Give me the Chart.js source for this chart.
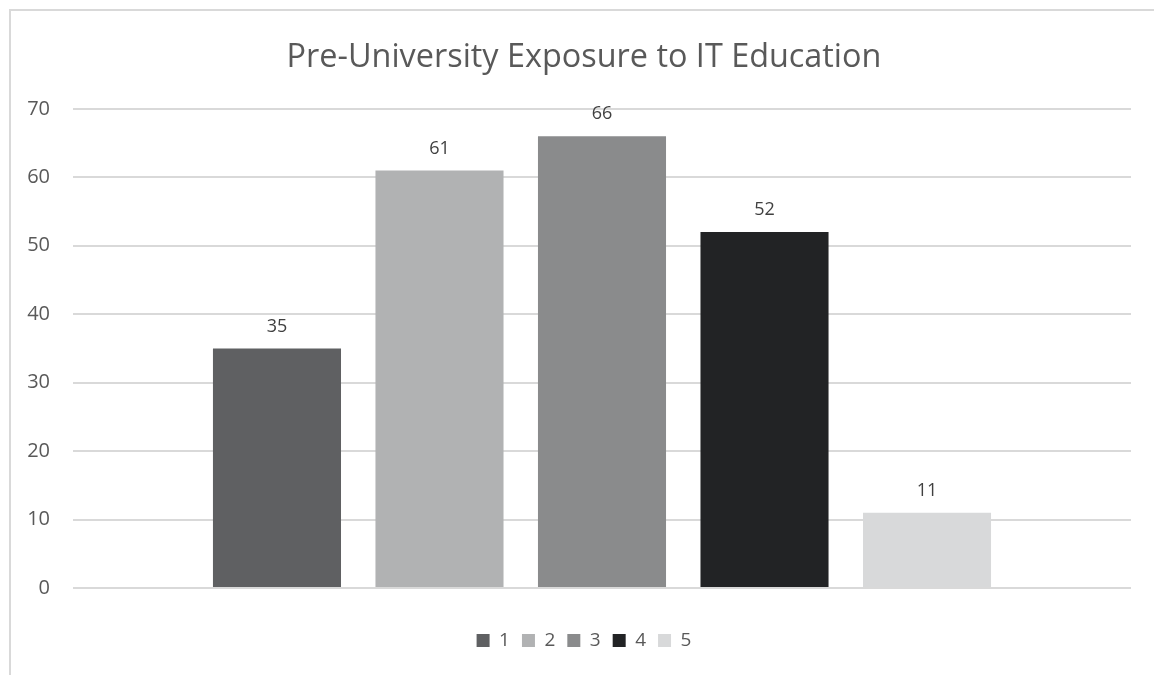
<!DOCTYPE html>
<html>
<head>
<meta charset="utf-8">
<script src="https://cdn.jsdelivr.net/npm/chart.js@4"></script>
<style>
html,body{margin:0;padding:0;background:#fff;}
#wrap{position:absolute;left:0;top:0;width:1154px;height:675px;}
</style>
</head>
<body>
<div id="wrap"><canvas id="c" width="1154" height="675"></canvas></div>
<script>
const categories = [""];
const seriesNames = ["1", "2", "3", "4", "5"];
const seriesValues = [35, 61, 66, 52, 11];
const seriesColors = ["#5f6062", "#b1b2b3", "#8a8b8c", "#222325", "#d8d9da"];
const yTicks = [0, 10, 20, 30, 40, 50, 60, 70];
const titleText = "Pre-University Exposure to IT Education";

const FONT = "'Open Sans', 'Liberation Sans', sans-serif";

const frame = {
  id: 'frame',
  afterLayout(chart) {
    // widen the label clip region of the y axis so its tick labels are not cut
    chart.scales.y.left = 0;
  },
  beforeDraw(chart) {
    const ctx = chart.ctx;
    ctx.save();
    ctx.fillStyle = '#fff';
    ctx.fillRect(0, 0, chart.width, chart.height);
    ctx.strokeStyle = '#d9d9d9';
    ctx.lineWidth = 2;
    ctx.beginPath();
    ctx.moveTo(10, chart.height);
    ctx.lineTo(10, 10);
    ctx.lineTo(chart.width, 10);
    ctx.stroke();
    ctx.restore();
  }
};

const valueLabels = {
  id: 'valueLabels',
  afterDatasetsDraw(chart) {
    const ctx = chart.ctx;
    ctx.save();
    ctx.font = "18px " + FONT;
    ctx.fillStyle = '#404040';
    ctx.textAlign = 'center';
    ctx.textBaseline = 'middle';
    chart.data.datasets.forEach((ds, i) => {
      const meta = chart.getDatasetMeta(i);
      meta.data.forEach((bar, j) => {
        ctx.fillText(String(ds.data[j]), bar.x, bar.y - 22);
      });
    });
    ctx.restore();
  }
};

new Chart(document.getElementById('c'), {
  type: 'bar',
  data: {
    labels: categories,
    datasets: seriesNames.map((n, i) => ({
      label: n,
      data: [seriesValues[i]],
      backgroundColor: seriesColors[i],
      borderWidth: 0,
      categoryPercentage: 0.768,
      barPercentage: 0.788
    }))
  },
  options: {
    responsive: false,
    animation: false,
    devicePixelRatio: 1,
    layout: { padding: { left: 37, right: 23, top: 32, bottom: 15 } },
    plugins: {
      title: {
        display: true,
        text: titleText,
        color: '#595959',
        font: { family: FONT, size: 32.4, weight: 'normal' },
        padding: { top: 6, bottom: 32 }
      },
      legend: {
        position: 'bottom',
        labels: {
          color: '#595959',
          font: { family: FONT, size: 19 },
          boxWidth: 13,
          boxHeight: 13,
          padding: 12
        }
      },
      tooltip: { enabled: false }
    },
    scales: {
      x: {
        grid: { display: false },
        border: { display: false },
        ticks: { display: false },
        afterFit(scale) { scale.height = 31; }
      },
      y: {
        min: 0,
        max: 70,
        afterBuildTicks(scale) { scale.ticks = yTicks.map(v => ({ value: v })); },
        afterFit(scale) { scale.width = 36; },
        grid: { color: '#d9d9d9', lineWidth: 2, drawTicks: false },
        border: { display: false },
        ticks: {
          color: '#595959',
          font: { family: FONT, size: 20 },
          padding: 23
        }
      }
    }
  },
  plugins: [frame, valueLabels]
});
</script>
</body>
</html>
